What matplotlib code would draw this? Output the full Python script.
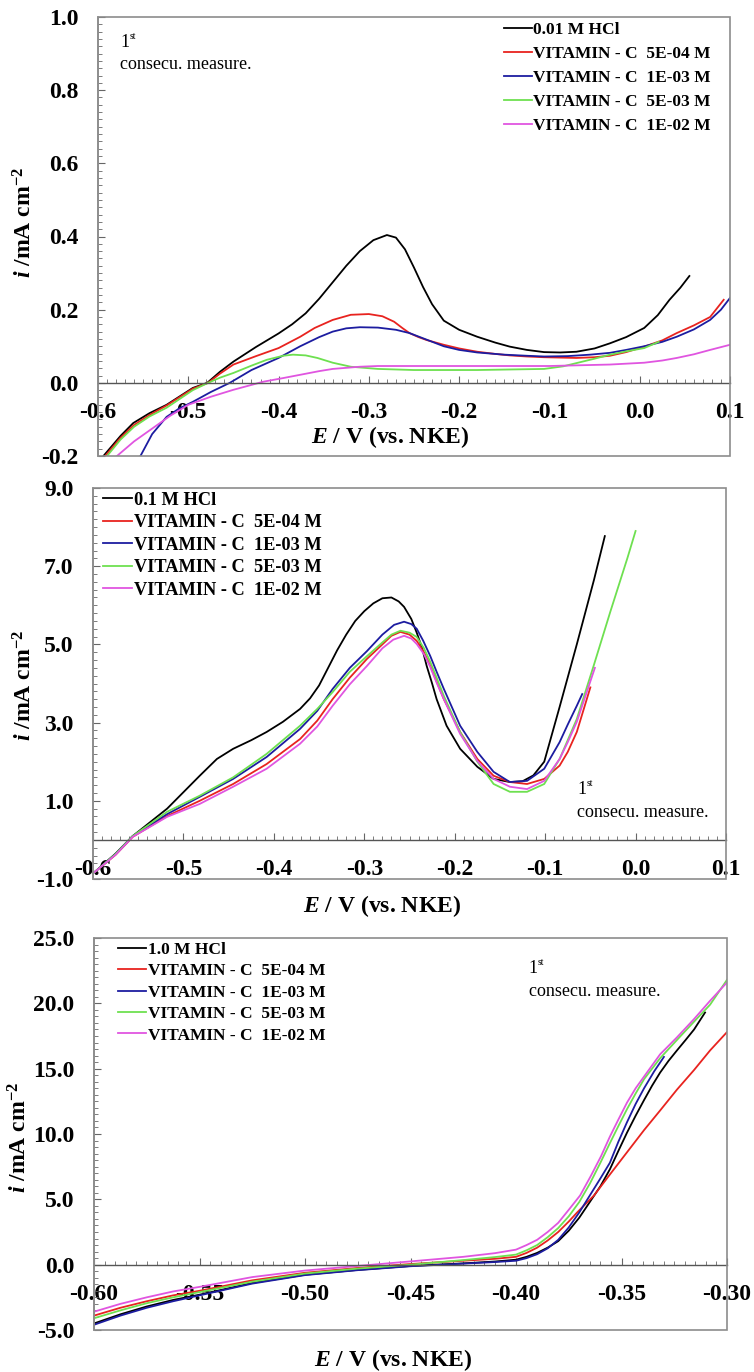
import matplotlib
matplotlib.use("Agg")
import matplotlib.pyplot as plt
from matplotlib.patches import Rectangle
from matplotlib.ticker import MultipleLocator

plt.rcParams['font.family'] = ['Liberation Serif', 'DejaVu Serif']
plt.rcParams['axes.unicode_minus'] = False
plt.rcParams['mathtext.fontset'] = 'custom'
plt.rcParams['mathtext.rm'] = 'Liberation Serif:bold'
plt.rcParams['mathtext.it'] = 'Liberation Serif:italic:bold'
plt.rcParams['mathtext.bf'] = 'Liberation Serif:bold'

g_colors = ['#000000', '#e8231f', '#1c1ca0', '#6ee050', '#e055e0']
g_vitc = ['VITAMIN - C  5E-04 M', 'VITAMIN - C  1E-03 M',
          'VITAMIN - C  5E-03 M', 'VITAMIN - C  1E-02 M']

# ---- panel 1 : 0.01 M HCl ----
p1_labels = ['0.01 M HCl'] + g_vitc
p1_black_x = [-0.594, -0.575, -0.561, -0.543, -0.524, -0.495, -0.479, -0.465, -0.45, -0.425, -0.40,
              -0.385, -0.37, -0.355, -0.34, -0.325, -0.31, -0.295, -0.28, -0.27, -0.26, -0.25, -0.24,
              -0.23, -0.217, -0.20, -0.18, -0.16, -0.144, -0.125, -0.106, -0.088, -0.07, -0.05,
              -0.033, -0.015, 0.005, 0.02, 0.033, 0.045, 0.055]
p1_black_y = [-0.2, -0.145, -0.11, -0.083, -0.06, -0.014, 0.0, 0.03, 0.058, 0.098, 0.135,
              0.16, 0.19, 0.23, 0.275, 0.32, 0.36, 0.39, 0.404, 0.397, 0.365, 0.315, 0.262,
              0.215, 0.17, 0.145, 0.126, 0.11, 0.099, 0.09, 0.084, 0.083, 0.085, 0.094,
              0.108, 0.125, 0.15, 0.185, 0.227, 0.26, 0.292]
p1_red_x = [-0.592, -0.575, -0.56, -0.543, -0.524, -0.495, -0.478, -0.465, -0.45, -0.425, -0.40,
            -0.376, -0.36, -0.34, -0.32, -0.30, -0.285, -0.272, -0.263, -0.255, -0.245, -0.236,
            -0.217, -0.2, -0.18, -0.16, -0.144, -0.125, -0.106, -0.088, -0.07, -0.05, -0.033,
            -0.015, 0.005, 0.025, 0.041, 0.06, 0.078, 0.093]
p1_red_y = [-0.2, -0.15, -0.115, -0.088, -0.062, -0.016, 0.0, 0.025, 0.05, 0.073, 0.095,
            0.126, 0.15, 0.172, 0.186, 0.188, 0.182, 0.167, 0.15, 0.136, 0.125, 0.117,
            0.104, 0.094, 0.085, 0.079, 0.075, 0.072, 0.07, 0.069, 0.068, 0.07, 0.074,
            0.084, 0.099, 0.116, 0.136, 0.157, 0.18, 0.227]
p1_blue_x = [-0.553, -0.54, -0.524, -0.51, -0.495, -0.475, -0.454, -0.43, -0.40, -0.376, -0.355,
             -0.34, -0.325, -0.31, -0.29, -0.27, -0.255, -0.236, -0.217, -0.2, -0.18, -0.15,
             -0.125, -0.106, -0.08, -0.055, -0.033, -0.015, 0.005, 0.025, 0.041, 0.06, 0.078,
             0.09, 0.1]
p1_blue_y = [-0.2, -0.14, -0.093, -0.07, -0.052, -0.025, 0.0, 0.035, 0.068, 0.1, 0.125,
             0.14, 0.149, 0.152, 0.151, 0.145, 0.136, 0.118, 0.1, 0.09, 0.083, 0.077,
             0.074, 0.072, 0.073, 0.077, 0.082, 0.09, 0.1, 0.112, 0.126, 0.146, 0.172,
             0.2, 0.232]
p1_green_x = [-0.59, -0.575, -0.56, -0.543, -0.524, -0.495, -0.478, -0.465, -0.45, -0.43, -0.413,
              -0.395, -0.384, -0.37, -0.357, -0.34, -0.32, -0.30, -0.29, -0.25, -0.18, -0.106,
              -0.085, -0.07, -0.05, -0.033, -0.015, 0.005, 0.021]
p1_green_y = [-0.2, -0.155, -0.12, -0.092, -0.068, -0.02, 0.0, 0.014, 0.027, 0.047, 0.063,
              0.074, 0.077, 0.075, 0.068, 0.055, 0.044, 0.04, 0.038, 0.035, 0.035, 0.038,
              0.045, 0.054, 0.066, 0.077, 0.086, 0.095, 0.112]
p1_mag_x = [-0.579, -0.56, -0.54, -0.52, -0.5, -0.475, -0.45, -0.417, -0.395, -0.376, -0.355,
            -0.34, -0.31, -0.29, -0.2, -0.1, -0.033, 0.005, 0.025, 0.041, 0.06, 0.078, 0.1]
p1_mag_y = [-0.2, -0.16, -0.125, -0.09, -0.06, -0.038, -0.019, 0.003, 0.013, 0.022, 0.032,
            0.038, 0.044, 0.046, 0.046, 0.046, 0.05, 0.055, 0.061, 0.068, 0.078, 0.09, 0.104]

# ---- panel 2 : 0.1 M HCl ----
p2_labels = ['0.1 M HCl'] + g_vitc
p2_black_x = [-0.598, -0.575, -0.556, -0.537, -0.518, -0.5, -0.482, -0.463, -0.445, -0.425, -0.408,
              -0.39, -0.371, -0.36, -0.35, -0.34, -0.33, -0.32, -0.31, -0.3, -0.29,
              -0.28, -0.27, -0.262, -0.256, -0.248, -0.242, -0.236, -0.231, -0.225, -0.22, -0.209,
              -0.194, -0.175, -0.157, -0.139, -0.125, -0.113, -0.101, -0.084, -0.065, -0.046,
              -0.034]
p2_black_y = [-0.82, -0.35, 0.1, 0.45, 0.8, 1.22, 1.64, 2.07, 2.33, 2.55, 2.76,
              3.02, 3.35, 3.62, 3.95, 4.4, 4.85, 5.25, 5.6, 5.85, 6.05,
              6.18, 6.2, 6.1, 5.96, 5.65, 5.3, 4.9, 4.45, 4.0, 3.6, 2.92,
              2.33, 1.87, 1.56, 1.48, 1.5, 1.65, 2.0, 3.4, 5.0, 6.65, 7.77]
p2_red_x = [-0.598, -0.575, -0.556, -0.518, -0.482, -0.445, -0.408, -0.371, -0.352, -0.335, -0.316,
            -0.297, -0.28, -0.27, -0.26, -0.25, -0.242, -0.234, -0.227, -0.22, -0.212, -0.194,
            -0.175, -0.157, -0.139, -0.12, -0.101, -0.084, -0.075, -0.065, -0.05]
p2_red_y = [-0.82, -0.38, 0.08, 0.61, 1.0, 1.43, 1.94, 2.58, 3.05, 3.6, 4.15,
            4.63, 5.0, 5.22, 5.32, 5.25, 5.09, 4.8, 4.45, 4.05, 3.6, 2.76,
            2.07, 1.64, 1.48, 1.43, 1.56, 1.9, 2.25, 2.76, 3.9]
p2_blue_x = [-0.598, -0.575, -0.556, -0.518, -0.482, -0.445, -0.408, -0.371, -0.352, -0.335, -0.316,
             -0.297, -0.28, -0.267, -0.256, -0.248, -0.242, -0.235, -0.227, -0.22, -0.212, -0.194,
             -0.175, -0.157, -0.139, -0.12, -0.101, -0.084, -0.075, -0.065, -0.059]
p2_blue_y = [-0.82, -0.36, 0.1, 0.66, 1.1, 1.56, 2.12, 2.84, 3.3, 3.86, 4.4,
             4.83, 5.25, 5.5, 5.58, 5.52, 5.4, 5.1, 4.7, 4.3, 3.86, 2.92,
             2.25, 1.74, 1.48, 1.51, 1.82, 2.5, 2.95, 3.43, 3.73]
p2_green_x = [-0.598, -0.575, -0.556, -0.518, -0.482, -0.445, -0.408, -0.371, -0.352, -0.335, -0.316,
              -0.297, -0.28, -0.27, -0.26, -0.25, -0.242, -0.234, -0.227, -0.22, -0.212, -0.194,
              -0.175, -0.157, -0.139, -0.12, -0.101, -0.084, -0.065, -0.046, -0.028, -0.009, 0.0]
p2_green_y = [-0.82, -0.36, 0.1, 0.72, 1.13, 1.6, 2.2, 2.92, 3.35, 3.78, 4.3,
              4.7, 5.05, 5.25, 5.35, 5.3, 5.19, 4.9, 4.55, 4.15, 3.68, 2.76,
              2.0, 1.43, 1.23, 1.23, 1.43, 2.07, 3.09, 4.48, 5.83, 7.21, 7.9]
p2_mag_x = [-0.598, -0.575, -0.556, -0.518, -0.482, -0.445, -0.408, -0.371, -0.352, -0.335, -0.316,
            -0.297, -0.28, -0.268, -0.256, -0.248, -0.242, -0.234, -0.227, -0.22, -0.212, -0.194,
            -0.175, -0.157, -0.139, -0.12, -0.101, -0.084, -0.075, -0.065, -0.045]
p2_mag_y = [-0.82, -0.38, 0.08, 0.59, 0.92, 1.36, 1.82, 2.46, 2.9, 3.43, 3.98,
            4.45, 4.9, 5.12, 5.22, 5.15, 5.01, 4.75, 4.42, 4.02, 3.6, 2.71,
            2.02, 1.56, 1.36, 1.3, 1.51, 2.07, 2.5, 3.02, 4.4]

# ---- panel 3 : 1.0 M HCl ----
p3_labels = ['1.0 M HCl'] + g_vitc
p3_black_x = [-0.60, -0.5875, -0.575, -0.5625, -0.55, -0.525, -0.50, -0.475, -0.45, -0.425, -0.41,
              -0.40, -0.395, -0.39, -0.385, -0.38, -0.375, -0.37, -0.365, -0.36, -0.3555, -0.3515,
              -0.3474, -0.3433, -0.3393, -0.3355, -0.3317, -0.3277, -0.3237, -0.3196, -0.3156,
              -0.3104]
p3_black_y = [-4.5, -3.8, -3.2, -2.7, -2.3, -1.4, -0.77, -0.4, -0.1, 0.1, 0.24,
              0.38, 0.6, 0.9, 1.3, 1.8, 2.6, 3.6, 4.8, 6.0, 7.3, 8.7,
              10.1, 11.4, 12.6, 13.7, 14.7, 15.6, 16.4, 17.2, 18.0, 19.3]
p3_red_x = [-0.60, -0.5875, -0.575, -0.5625, -0.55, -0.525, -0.50, -0.475, -0.45, -0.425, -0.41,
            -0.40, -0.395, -0.39, -0.385, -0.38, -0.375, -0.371, -0.367, -0.363, -0.3595, -0.3555,
            -0.3474, -0.3393, -0.3317, -0.3237, -0.3156, -0.308, -0.30]
p3_red_y = [-3.9, -3.3, -2.8, -2.35, -2.0, -1.2, -0.62, -0.25, 0.05, 0.3, 0.45,
            0.6, 0.9, 1.3, 1.85, 2.5, 3.3, 4.0, 4.65, 5.3, 6.05, 6.9,
            8.6, 10.3, 11.8, 13.4, 14.9, 16.4, 17.8]
p3_blue_x = [-0.60, -0.5875, -0.575, -0.5625, -0.55, -0.525, -0.50, -0.475, -0.45, -0.425, -0.41,
             -0.40, -0.395, -0.39, -0.385, -0.38, -0.375, -0.37, -0.365, -0.36, -0.3555, -0.3515,
             -0.3474, -0.3433, -0.3393, -0.3345, -0.3299]
p3_blue_y = [-4.6, -3.9, -3.3, -2.8, -2.35, -1.45, -0.8, -0.42, -0.12, 0.08, 0.2,
             0.3, 0.5, 0.8, 1.25, 1.9, 2.85, 4.0, 5.3, 6.6, 7.8, 9.4,
             10.9, 12.3, 13.5, 14.8, 15.9]
p3_green_x = [-0.60, -0.5875, -0.575, -0.5625, -0.55, -0.525, -0.50, -0.475, -0.45, -0.425, -0.41,
              -0.40, -0.395, -0.39, -0.385, -0.38, -0.375, -0.37, -0.365, -0.36, -0.3555, -0.3515,
              -0.3474, -0.3433, -0.3393, -0.3317, -0.3237, -0.3156, -0.308, -0.30]
p3_green_y = [-4.1, -3.5, -2.95, -2.5, -2.1, -1.3, -0.68, -0.3, 0.0, 0.35, 0.58,
              0.77, 1.1, 1.5, 2.1, 2.8, 3.7, 4.8, 6.2, 7.8, 9.3, 10.6,
              11.9, 13.1, 14.2, 15.8, 17.2, 18.6, 19.9, 21.8]
p3_mag_x = [-0.60, -0.5875, -0.575, -0.5625, -0.55, -0.525, -0.50, -0.475, -0.45, -0.425, -0.41,
            -0.40, -0.395, -0.39, -0.385, -0.38, -0.375, -0.3696, -0.3645, -0.3597, -0.3555,
            -0.3515, -0.3474, -0.3433, -0.3393, -0.3317, -0.3237, -0.3156, -0.308, -0.30]
p3_mag_y = [-3.6, -3.0, -2.5, -2.05, -1.7, -0.95, -0.45, -0.1, 0.25, 0.6, 0.88,
            1.15, 1.5, 1.9, 2.5, 3.2, 4.2, 5.3, 6.8, 8.3, 9.8,
            11.1, 12.4, 13.5, 14.4, 16.1, 17.4, 18.8, 20.2, 21.6]

# ticks
p1_xticks = [-0.6, -0.5, -0.4, -0.3, -0.2, -0.1, 0.0, 0.1]
p1_xlabels = ['-0.6', '-0.5', '-0.4', '-0.3', '-0.2', '-0.1', '0.0', '0.1']
p1_yticks = [-0.2, 0.0, 0.2, 0.4, 0.6, 0.8, 1.0]
p1_ylabels = ['-0.2', '0.0', '0.2', '0.4', '0.6', '0.8', '1.0']
p2_xticks = p1_xticks
p2_xlabels = p1_xlabels
p2_yticks = [-1.0, 1.0, 3.0, 5.0, 7.0, 9.0]
p2_ylabels = ['-1.0', '1.0', '3.0', '5.0', '7.0', '9.0']
p3_xticks = [-0.60, -0.55, -0.50, -0.45, -0.40, -0.35, -0.30]
p3_xlabels = ['-0.60', '-0.55', '-0.50', '-0.45', '-0.40', '-0.35', '-0.30']
p3_yticks = [-5.0, 0.0, 5.0, 10.0, 15.0, 20.0, 25.0]
p3_ylabels = ['-5.0', '0.0', '5.0', '10.0', '15.0', '20.0', '25.0']

W, H = 754, 1372
BOX = '#8c8c8c'


def draw_panel(fig, rect, xs, ys, labels, xticks, xlabels, yticks, ylabels,
               xminor, yminor, leg_anchor, leg_space, leg_size, note_xy,
               xlab_px, ylab_px):
    ax = fig.add_axes(rect)
    for x, y, c, lab in zip(xs, ys, g_colors, labels):
        ax.plot(x, y, color=c, lw=1.3, label=lab, solid_joinstyle='round')
    ax.set_xlim(xticks[0], xticks[-1])
    ax.set_ylim(yticks[0], yticks[-1])

    # box + zero axis
    for s in ['top', 'right']:
        ax.spines[s].set_visible(False)
    ax.spines['left'].set_color(BOX)
    ax.spines['left'].set_linewidth(1.2)
    ax.spines['bottom'].set_position(('data', 0))
    ax.spines['bottom'].set_color('#555555')
    ax.spines['bottom'].set_linewidth(1.0)
    ax.add_patch(Rectangle((0, 0), 1, 1, transform=ax.transAxes, fill=False,
                           edgecolor=BOX, lw=1.2, clip_on=False, zorder=5))

    ax.set_xticks(xticks)
    ax.set_xticklabels(xlabels)
    ax.set_yticks(yticks)
    ax.set_yticklabels(ylabels)
    ax.xaxis.set_minor_locator(MultipleLocator(xminor))
    ax.yaxis.set_minor_locator(MultipleLocator(yminor))
    ax.tick_params(axis='both', which='both', direction='in', color='#666666')
    ax.tick_params(axis='x', which='major', length=5, pad=14)
    ax.tick_params(axis='x', which='minor', length=3)
    ax.tick_params(axis='y', which='major', length=5, pad=14)
    ax.tick_params(axis='y', which='minor', length=3)
    for t in ax.get_xticklabels() + ax.get_yticklabels():
        t.set_fontsize(17)
        t.set_fontweight('bold')

    ax.legend(loc='upper left', bbox_to_anchor=leg_anchor, frameon=False,
              borderpad=0, borderaxespad=0, handlelength=1.6, handletextpad=0.1,
              labelspacing=leg_space,
              prop=dict(family='Liberation Serif', weight='bold', size=leg_size))

    nx, ny = note_xy
    ax.text(nx, ny, '1', transform=ax.transAxes, fontsize=13, va='center')
    ax.annotate('st', xy=(nx, ny), xycoords='axes fraction', xytext=(6.5, 1),
                textcoords='offset points', fontsize=7, va='bottom')
    ax.text(nx, ny - 0.052 * (439 / (rect[3] * H)), 'consecu. measure.',
            transform=ax.transAxes, fontsize=13, va='center')

    fig.text(xlab_px[0] / W, 1 - xlab_px[1] / H, r'$\mathit{E}$ / V (vs. NKE)',
             fontsize=17, fontweight='bold', ha='center', va='center')
    fig.text(ylab_px[0] / W, 1 - ylab_px[1] / H, r'$\mathit{i}$ /mA cm$^{-2}$',
             fontsize=17, fontweight='bold', ha='center', va='center', rotation=90)
    return ax


def main():
    fig = plt.figure(figsize=(W / 100, H / 100), dpi=100)

    draw_panel(fig, [98 / W, 1 - 456 / H, 632 / W, 439 / H],
               [p1_black_x, p1_red_x, p1_blue_x, p1_green_x, p1_mag_x],
               [p1_black_y, p1_red_y, p1_blue_y, p1_green_y, p1_mag_y],
               p1_labels, p1_xticks, p1_xlabels, p1_yticks, p1_ylabels,
               0.01, 0.02, (0.642, 0.988), 0.45, 12.5, (0.035, 0.943),
               (390, 437), (25, 222))

    draw_panel(fig, [93 / W, 1 - 879 / H, 633 / W, 391 / H],
               [p2_black_x, p2_red_x, p2_blue_x, p2_green_x, p2_mag_x],
               [p2_black_y, p2_red_y, p2_blue_y, p2_green_y, p2_mag_y],
               p2_labels, p2_xticks, p2_xlabels, p2_yticks, p2_ylabels,
               0.01, 0.2, (0.016, 0.99), 0.3, 13.2, (0.765, 0.228),
               (382, 906), (25, 685))

    draw_panel(fig, [94 / W, 1 - 1330 / H, 633 / W, 392 / H],
               [p3_black_x, p3_red_x, p3_blue_x, p3_green_x, p3_mag_x],
               [p3_black_y, p3_red_y, p3_blue_y, p3_green_y, p3_mag_y],
               p3_labels, p3_xticks, p3_xlabels, p3_yticks, p3_ylabels,
               0.005, 0.5, (0.038, 0.99), 0.3, 12.5, (0.687, 0.923),
               (393, 1360), (20, 1137))

    fig.savefig('out.png', dpi=100)


if __name__ == "__main__":
    main()
